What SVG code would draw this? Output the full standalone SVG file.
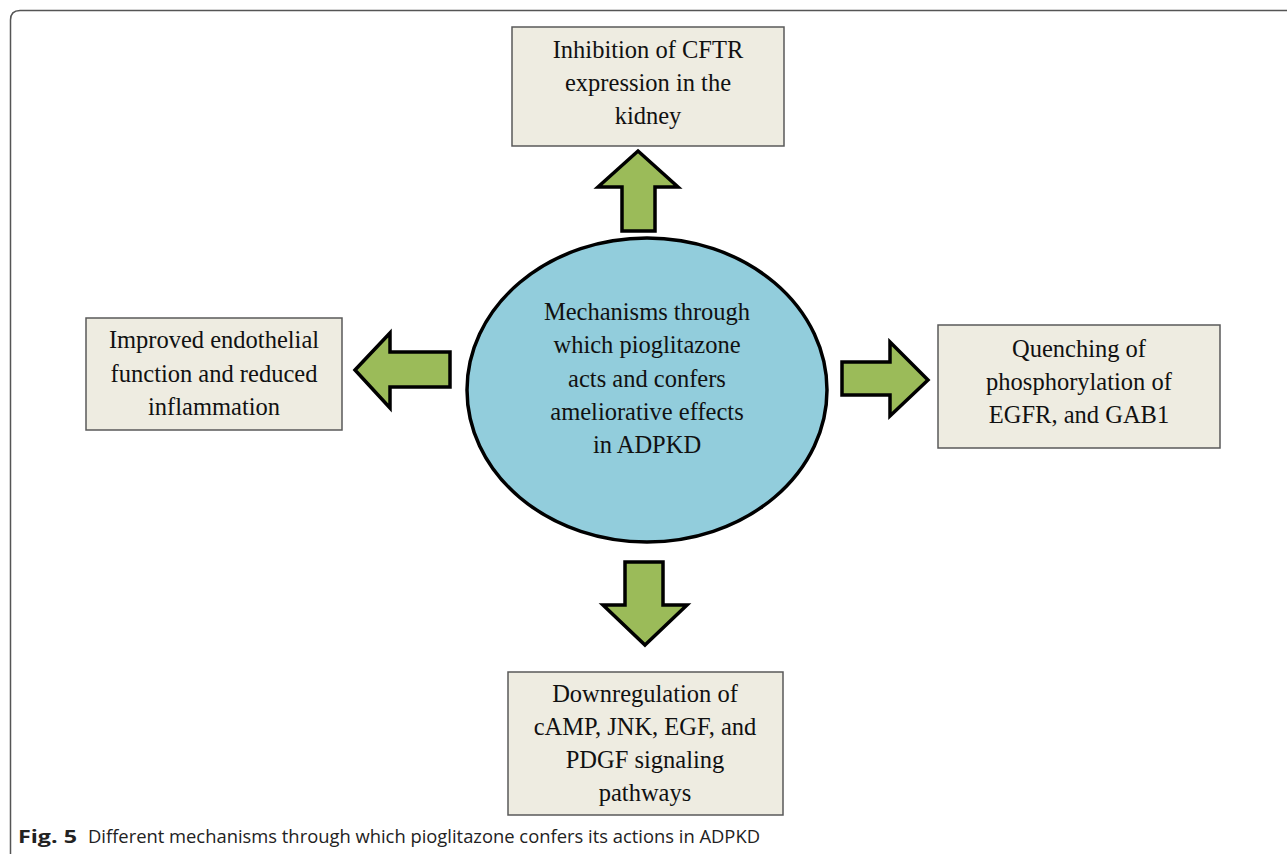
<svg xmlns="http://www.w3.org/2000/svg" width="1287" height="854" viewBox="0 0 1287 854">
<style>
.box{fill:#EEECE1;stroke:#595959;stroke-width:1.5}
.arrow{fill:#9BBB59;stroke:#000;stroke-width:3.5;stroke-linejoin:miter}
.t{font-family:"Liberation Serif","Times New Roman",serif;font-size:24.5px;fill:#111;text-anchor:middle}
.cap{font-family:"Open Sans","Noto Sans",sans-serif;font-size:18px;fill:#222}
</style>
<rect width="1287" height="854" fill="#fff"/>
<path d="M10.5 860 L10.5 20 Q10.5 10.5 20 10.5 L1295 10.5" fill="none" stroke="#555" stroke-width="1.5"/>
<g id="connectors">
<polygon class="arrow" points="638,151 678,187 655,187 655,231 622,231 622,187 598,187"/>
<polygon class="arrow" points="355,370 390,333 390,352 450,352 450,387 390,387 390,408"/>
<polygon class="arrow" points="928,380 890,342 890,362 842,362 842,395 890,395 890,416"/>
<polygon class="arrow" points="645,645 687,605 663,605 663,562 625,562 625,605 603,605"/>
</g>
<g id="center">
<ellipse cx="647" cy="390" rx="180" ry="152" fill="#92CDDC" stroke="#000" stroke-width="3.5"/>
<text class="t" x="647" y="320">Mechanisms through</text>
<text class="t" x="647" y="353">which pioglitazone</text>
<text class="t" x="647" y="387">acts and confers</text>
<text class="t" x="647" y="420">ameliorative effects</text>
<text class="t" x="647" y="453">in ADPKD</text>
</g>
<g id="top">
<rect class="box" x="512" y="27" width="272" height="119"/>
<text class="t" x="648" y="58">Inhibition of CFTR</text>
<text class="t" x="648" y="91">expression in the</text>
<text class="t" x="648" y="124">kidney</text>
</g>
<g id="left">
<rect class="box" x="86" y="318" width="256" height="112"/>
<text class="t" x="214" y="348">Improved endothelial</text>
<text class="t" x="214" y="382">function and reduced</text>
<text class="t" x="214" y="415">inflammation</text>
</g>
<g id="right">
<rect class="box" x="938" y="325" width="282" height="123"/>
<text class="t" x="1079" y="357">Quenching of</text>
<text class="t" x="1079" y="390">phosphorylation of</text>
<text class="t" x="1079" y="423">EGFR, and GAB1</text>
</g>
<g id="bottom">
<rect class="box" x="508" y="672" width="275" height="143"/>
<text class="t" x="645" y="702">Downregulation of</text>
<text class="t" x="645" y="735">cAMP, JNK, EGF, and</text>
<text class="t" x="645" y="768">PDGF signaling</text>
<text class="t" x="645" y="801">pathways</text>
</g>
<text class="cap" x="18" y="843"><tspan font-weight="bold" textLength="59" lengthAdjust="spacingAndGlyphs">Fig. 5</tspan><tspan x="88" textLength="672" lengthAdjust="spacingAndGlyphs">Different mechanisms through which pioglitazone confers its actions in ADPKD</tspan></text>
</svg>
